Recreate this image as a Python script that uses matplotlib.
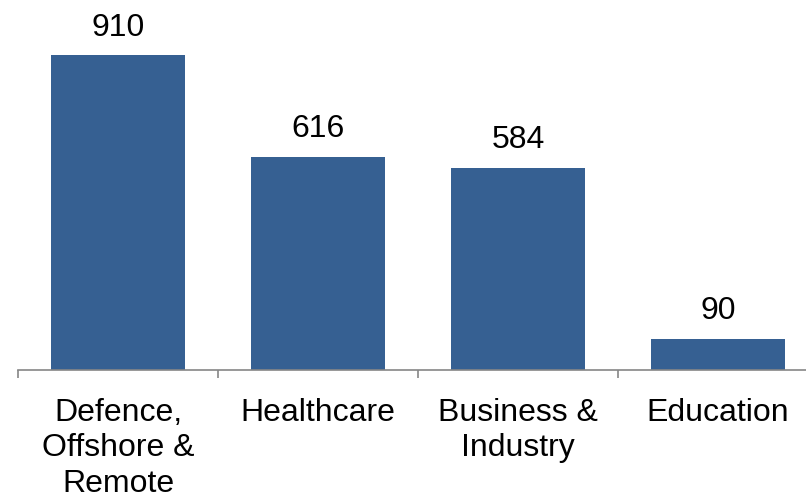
import matplotlib.pyplot as plt
from matplotlib.ticker import FixedLocator

categories = ['Defence,\nOffshore &\nRemote', 'Healthcare', 'Business &\nIndustry', 'Education']
values = [910, 616, 584, 90]

plt.rcParams['font.family'] = ['Liberation Sans', 'DejaVu Sans']

fig = plt.figure(figsize=(8.06, 4.93), dpi=100)
# axes run a little past the right edge, like the category axis does
ax = fig.add_axes([18 / 806, 123 / 493, 800 / 806, 370 / 493])

x = list(range(len(categories)))
bars = ax.bar(x, values, width=0.667, color='#366092', zorder=2)

for b, v in zip(bars, values):
    ax.annotate(str(v), (b.get_x() + b.get_width() / 2, v), xytext=(0, 9),
                textcoords='offset points', ha='center', va='bottom', fontsize=23)

ax.set_xlim(-0.5, len(categories) - 0.5)
ax.set_ylim(0, 1069)

# boundary ticks between categories, labels centred on the bars
ax.xaxis.set_major_locator(FixedLocator([i - 0.5 for i in range(len(categories) + 1)]))
ax.xaxis.set_minor_locator(FixedLocator(x))
ax.set_xticklabels([''] * (len(categories) + 1))
ax.set_xticklabels(categories, minor=True, linespacing=1.24)
ax.tick_params(axis='x', which='major', length=6, width=1.2, color='#868686')
ax.tick_params(axis='x', which='minor', length=0, pad=20, labelsize=23)
ax.set_yticks([])

for side in ['top', 'right', 'left']:
    ax.spines[side].set_visible(False)
ax.spines['bottom'].set_color('#868686')
ax.spines['bottom'].set_linewidth(1.2)

fig.savefig('out.png', dpi=100)
